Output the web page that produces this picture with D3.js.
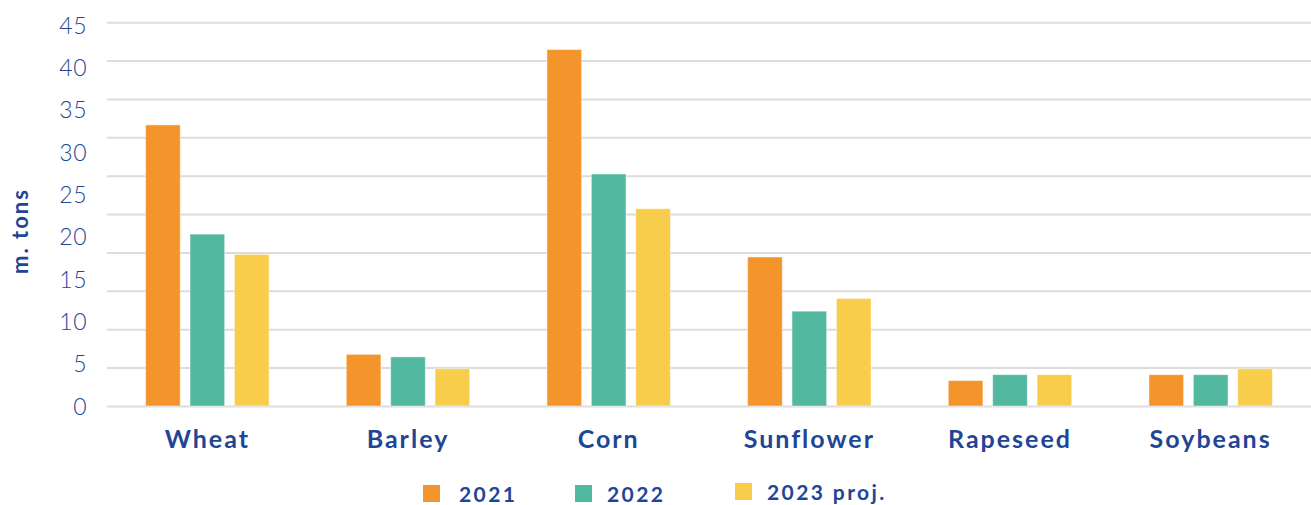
<!DOCTYPE html>
<html>
<head>
<meta charset="utf-8">
<script src="https://cdn.jsdelivr.net/npm/d3@7"></script>
<style>
  html, body { margin: 0; padding: 0; background: #fff; }
  svg { display: block; }
  text { font-family: Lato, "Open Sans", sans-serif; fill: #1f4596; }
</style>
</head>
<body>
<svg id="chart" width="1311" height="505"></svg>
<script>
// Crop production, million tons
const crops = ["Wheat", "Barley", "Corn", "Sunflower", "Rapeseed", "Soybeans"];
const seriesNames = ["2021", "2022", "2023 proj."];
const values2021 = [33.2, 6.1, 42.1, 17.6, 3.0, 3.7];
const values2022 = [20.3, 5.8, 27.4, 11.2, 3.7, 3.7];
const values2023 = [17.9, 4.4, 23.3, 12.7, 3.7, 4.4];
const yTicks = [0, 5, 10, 15, 20, 25, 30, 35, 40, 45];
const colors = ["#f3952b", "#52b8a0", "#f7cd4b"];

const series = [values2021, values2022, values2023];
const W = 1311, H = 505;
const svg = d3.select("#chart");

const x0 = d3.scaleBand().domain(crops).range([107, W]).paddingInner(0).paddingOuter(0);
const x1 = d3.scaleBand().domain(seriesNames).range([0, x0.bandwidth()])
  .paddingInner(0.22).paddingOuter(0.87);
const y = d3.scaleLinear().domain([0, 45]).range([406, 25]);
const color = d3.scaleOrdinal().domain(seriesNames).range(colors);

// background grid: 10 equal bands over the plot
const grid = d3.scaleLinear().domain([0, 10]).range([406.5, 22.7]);
svg.append("g")
  .selectAll("line")
  .data(d3.range(11))
  .join("line")
  .attr("x1", 107).attr("x2", W)
  .attr("y1", d => grid(d)).attr("y2", d => grid(d))
  .attr("stroke", "#dcdcdc").attr("stroke-width", 2);

// y axis labels
const yAxis = d3.axisLeft(y).tickValues(yTicks).tickSize(0).tickPadding(0);
const ya = svg.append("g").attr("transform", "translate(87,0)").call(yAxis);
ya.select(".domain").remove();
ya.selectAll("text")
  .attr("fill", "#1f4596")
  .style("font-family", "Lato, sans-serif")
  .style("font-weight", 300)
  .style("font-size", "23px")
  .style("letter-spacing", "0.5px")
  .attr("dy", "0.36em");

// axis title
svg.append("text")
  .attr("transform", "translate(28,231) rotate(-90)")
  .attr("text-anchor", "middle")
  .style("font-weight", 700)
  .style("font-size", "22px")
  .style("letter-spacing", "2px")
  .text("m. tons");

// bars
const groups = svg.append("g")
  .selectAll("g")
  .data(crops)
  .join("g")
  .attr("transform", d => `translate(${x0(d)},0)`);

groups.selectAll("rect")
  .data((c, i) => seriesNames.map((s, k) => ({ s, v: series[k][i] })))
  .join("rect")
  .attr("x", d => x1(d.s))
  .attr("width", x1.bandwidth())
  .attr("y", d => y(d.v))
  .attr("height", d => y(0) - y(d.v))
  .attr("fill", d => color(d.s))
  .attr("stroke", "rgba(255,255,255,0.45)")
  .attr("stroke-width", 1);

// category labels
const xAxis = d3.axisBottom(x0).tickSize(0).tickPadding(0);
const xa = svg.append("g").attr("transform", "translate(0,448)").call(xAxis);
xa.select(".domain").remove();
xa.selectAll("text")
  .attr("fill", "#1f4596")
  .attr("dy", 0)
  .style("font-family", "Lato, sans-serif")
  .style("font-weight", 700)
  .style("font-size", "25px")
  .style("letter-spacing", "2px");

// legend
const legendX = [423, 575, 735];
const legendY = [485, 485, 483];
const legendTextX = [36, 32, 32];
const legend = svg.append("g")
  .selectAll("g")
  .data(seriesNames)
  .join("g")
  .attr("transform", (d, i) => `translate(${legendX[i]},${legendY[i]})`);
legend.append("rect")
  .attr("width", 17).attr("height", 17)
  .attr("fill", d => color(d));
legend.append("text")
  .attr("x", (d, i) => legendTextX[i]).attr("y", 16.5)
  .style("font-weight", 700)
  .style("font-size", "21px")
  .style("letter-spacing", "2.4px")
  .text(d => d);
</script>
</body>
</html>
